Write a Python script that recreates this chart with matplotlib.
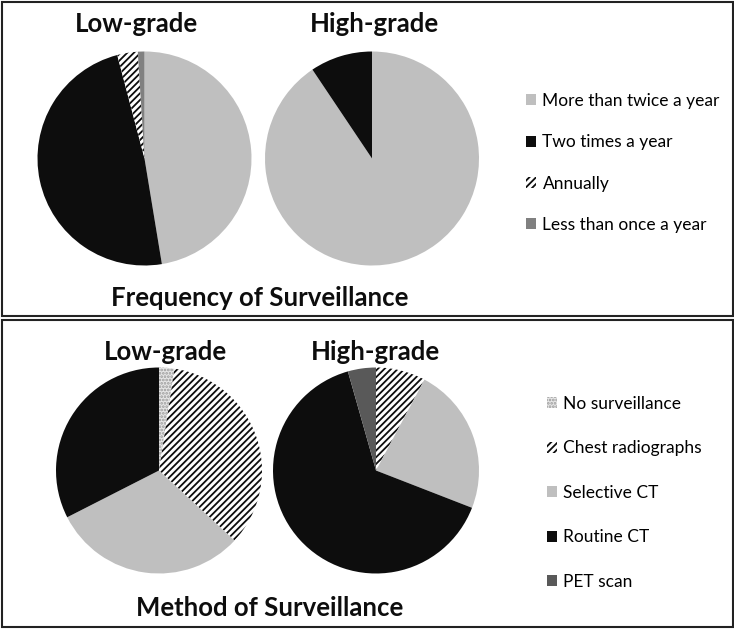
import matplotlib
matplotlib.use("Agg")
import matplotlib.pyplot as plt
from matplotlib.patches import Patch, Rectangle

plt.rcParams['font.family'] = ['Lato', 'DejaVu Sans']
plt.rcParams['hatch.linewidth'] = 1.3

# ---- data ----
freq_categories = ["More than twice a year", "Two times a year", "Annually", "Less than once a year"]
freq_low = [47.4, 48.5, 3.1, 1.0]
freq_high = [90.6, 9.4, 0.0, 0.0]

method_categories = ["No surveillance", "Chest radiographs", "Selective CT", "Routine CT", "PET scan"]
method_low = [2.4, 34.5, 30.6, 32.5, 0.0]
method_high = [0.0, 7.8, 23.1, 64.7, 4.4]

group_titles = ["Low-grade", "High-grade"]
panel_titles = ["Frequency of Surveillance", "Method of Surveillance"]

# ---- styles ----
freq_face = ['#bfbfbf', '#0d0d0d', 'white', '#808080']
freq_hatch = [None, None, '/////', None]
freq_edge = ['#bfbfbf', '#0d0d0d', '#0d0d0d', '#808080']

meth_face = ['#e6e6e6', 'white', '#bfbfbf', '#0d0d0d', '#595959']
meth_hatch = ['.....', '/////', None, None, None]
meth_edge = ['#9a9a9a', '#0d0d0d', '#bfbfbf', '#0d0d0d', '#595959']

W, H = 734, 633
fig = plt.figure(figsize=(W / 100, H / 100), dpi=100)


def fx(x):
    return x / W


def fy(y):
    return 1 - y / H


def pie_at(cx, cy, r, values, faces, hatches, edges):
    ax = fig.add_axes([fx(cx - r), fy(cy + r), 2 * r / W, 2 * r / H])
    wedges, _ = ax.pie(values, colors=faces, startangle=90, counterclock=False,
                       radius=1, wedgeprops=dict(linewidth=0))
    for w, h, e in zip(wedges, hatches, edges):
        w.set_edgecolor(e)
        w.set_linewidth(0)
        if h:
            w.set_hatch(h)
    ax.set_xlim(-1, 1)
    ax.set_ylim(-1, 1)
    ax.set_aspect('auto')
    ax.axis('off')
    return ax


# panel borders
for (y0, y1) in [(2, 316), (320, 627)]:
    fig.patches.append(Rectangle((fx(2), fy(y1)), fx(731), (y1 - y0) / H,
                                 transform=fig.transFigure, fill=False,
                                 edgecolor='#222222', linewidth=1.5))

# top panel
pie_at(144.5, 158.5, 107, freq_low, freq_face, freq_hatch, freq_edge)
pie_at(372, 158.5, 107, freq_high, freq_face, freq_hatch, freq_edge)
# bottom panel
pie_at(159, 470.5, 103, method_low, meth_face, meth_hatch, meth_edge)
pie_at(376, 470.5, 103, method_high, meth_face, meth_hatch, meth_edge)

title_kw = dict(fontsize=18.5, fontweight='bold', ha='center', va='center', color='#0d0d0d')
fig.text(fx(136), fy(24), group_titles[0], **title_kw)
fig.text(fx(374), fy(24), group_titles[1], **title_kw)
fig.text(fx(165), fy(352), group_titles[0], **title_kw)
fig.text(fx(375), fy(352), group_titles[1], **title_kw)
fig.text(fx(260), fy(298), panel_titles[0], **title_kw)
fig.text(fx(270), fy(608), panel_titles[1], **title_kw)

freq_handles = [Patch(facecolor=f, hatch=h, edgecolor=e, linewidth=0)
                for f, h, e in zip(freq_face, freq_hatch, freq_edge)]
meth_handles = [Patch(facecolor=f, hatch=h, edgecolor=e, linewidth=0)
                for f, h, e in zip(meth_face, meth_hatch, meth_edge)]

leg_kw = dict(frameon=False, fontsize=12.5, handlelength=0.6, handleheight=0.6,
              handletextpad=0.35, loc='upper left', borderaxespad=0, borderpad=0)
fig.legend(freq_handles, freq_categories, bbox_to_anchor=(fx(526), fy(93)),
           labelspacing=1.46, **leg_kw)
fig.legend(meth_handles, method_categories, bbox_to_anchor=(fx(547), fy(396)),
           labelspacing=1.64, **leg_kw)

fig.savefig("out.png", dpi=100)
